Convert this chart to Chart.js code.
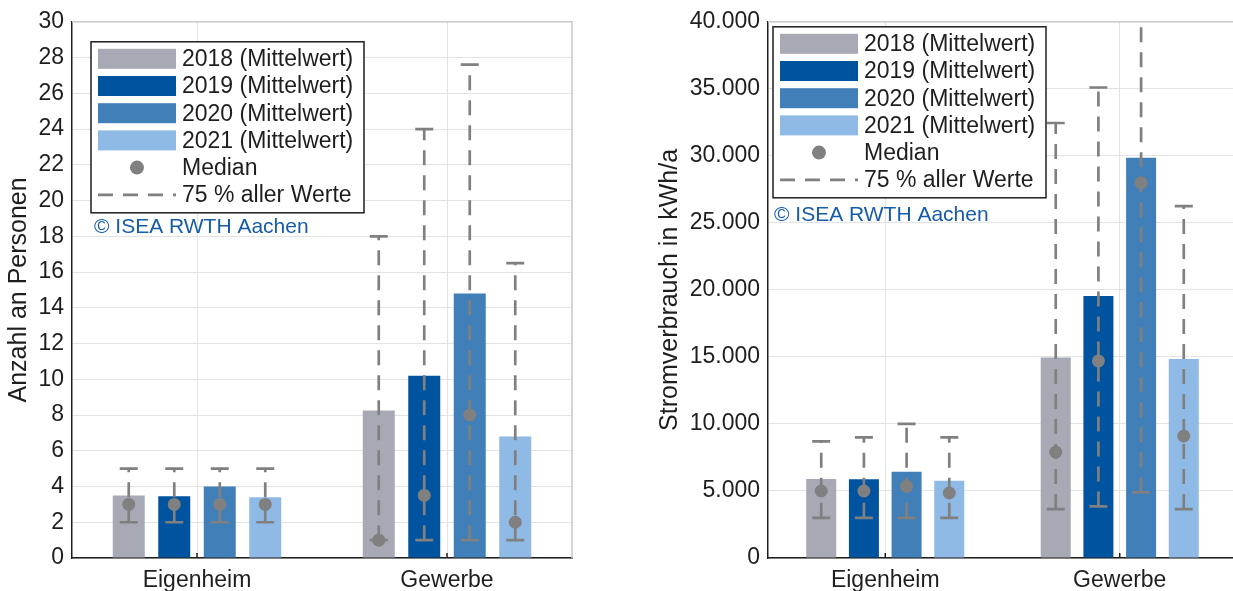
<!DOCTYPE html>
<html lang="de">
<head>
<meta charset="utf-8">
<title>Personen und Stromverbrauch</title>
<script src="https://cdn.jsdelivr.net/npm/chart.js@4.4.1/dist/chart.umd.min.js"></script>
<style>
  html, body { margin: 0; padding: 0; background: #fff; overflow: hidden; }
  body { width: 1233px; height: 591px; position: relative; }
  canvas { position: absolute; top: 0; }
  #chartPersonen { left: 0; }
  #chartStrom { left: 620px; }
</style>
</head>
<body>
<canvas id="chartPersonen" width="620" height="591"></canvas>
<canvas id="chartStrom" width="620" height="591"></canvas>
<script>
// Kategorien und Jahre
let categories = ["Eigenheim", "Gewerbe"];
let seriesNames = ["2018 (Mittelwert)", "2019 (Mittelwert)", "2020 (Mittelwert)", "2021 (Mittelwert)"];
let legendMedian = "Median";
let legendRange = "75 % aller Werte";
let copyrightText = "\u00a9 ISEA RWTH Aachen";

// Anzahl an Personen, je Jahr: [Eigenheim, Gewerbe]
let personenMittelwert = [[3.5, 8.25], [3.45, 10.2], [4.0, 14.8], [3.4, 6.8]];
let personenMedian = [[3, 1], [3, 3.5], [3, 8], [3, 2]];
let personenMin = [[2, 1], [2, 1], [2, 1], [2, 1]];
let personenMax = [[5, 18], [5, 24], [5, 27.6], [5, 16.5]];
let personenTicks = [0, 2, 4, 6, 8, 10, 12, 14, 16, 18, 20, 22, 24, 26, 28, 30];
let personenTickLabels = ["0", "2", "4", "6", "8", "10", "12", "14", "16", "18", "20", "22", "24", "26", "28", "30"];

// Stromverbrauch in kWh/a, je Jahr: [Eigenheim, Gewerbe]
let stromMittelwert = [[5900, 14950], [5870, 19550], [6430, 29850], [5760, 14850]];
let stromMedian = [[5000, 7900], [5000, 14700], [5350, 28000], [4850, 9100]];
let stromMin = [[3000, 3650], [3000, 3850], [3000, 4900], [3000, 3650]];
let stromMax = [[8700, 32450], [9000, 35100], [10000, 41000], [9000, 26250]];
let stromTicks = [0, 5000, 10000, 15000, 20000, 25000, 30000, 35000, 40000];
let stromTickLabels = ["0", "5.000", "10.000", "15.000", "20.000", "25.000", "30.000", "35.000", "40.000"];

let seriesColors = ["#a7a9b4", "#00539e", "#407fb7", "#8ebae5"];
let whiskerColor = "#808080";
let textColor = "#1e1e1e";
let gridColor = "#e3e3e3";
let fontFamily = '"Liberation Sans", Arial, sans-serif';

// Fehlerbalken (75 %) und Median über die Balken zeichnen
const whiskerPlugin = {
  id: "whiskers",
  afterDatasetsDraw(chart) {
    let ctx = chart.ctx;
    let yScale = chart.scales.y;
    let area = chart.chartArea;
    ctx.save();
    ctx.beginPath();
    ctx.rect(area.left, area.top, area.right - area.left, area.bottom - area.top);
    ctx.clip();
    chart.data.datasets.forEach((ds, i) => {
      chart.getDatasetMeta(i).data.forEach((bar, j) => {
        let x = bar.x;
        let yLow = yScale.getPixelForValue(ds.low[j]);
        let yHigh = yScale.getPixelForValue(ds.high[j]);
        let yMed = yScale.getPixelForValue(ds.median[j]);
        ctx.strokeStyle = whiskerColor;
        ctx.lineWidth = 2.7;
        ctx.setLineDash([15, 10]);
        ctx.beginPath();
        ctx.moveTo(x, yLow);
        ctx.lineTo(x, yHigh);
        ctx.stroke();
        ctx.setLineDash([]);
        ctx.beginPath();
        ctx.moveTo(x - 9, yLow);
        ctx.lineTo(x + 9, yLow);
        ctx.moveTo(x - 9, yHigh);
        ctx.lineTo(x + 9, yHigh);
        ctx.stroke();
        ctx.fillStyle = whiskerColor;
        ctx.beginPath();
        ctx.arc(x, yMed, 6.5, 0, Math.PI * 2);
        ctx.fill();
      });
    });
    ctx.restore();
  }
};

// Rahmen, Legende im Plot und Copyright
const boxLegendPlugin = {
  id: "boxLegend",
  afterDraw(chart, args, opts) {
    let ctx = chart.ctx;
    let area = chart.chartArea;
    ctx.save();

    // oberer und rechter Rahmen
    ctx.strokeStyle = "#c8c8c8";
    ctx.lineWidth = 1.5;
    ctx.beginPath();
    ctx.moveTo(area.left, area.top);
    ctx.lineTo(area.right, area.top);
    ctx.lineTo(area.right, area.bottom);
    ctx.stroke();

    // kleine Ticks an der x-Achse
    ctx.strokeStyle = textColor;
    ctx.beginPath();
    categories.forEach((c, j) => {
      let x = chart.scales.x.getPixelForValue(j);
      ctx.moveTo(x, area.bottom);
      ctx.lineTo(x, area.bottom - 5);
    });
    ctx.stroke();

    let x0 = area.left + opts.dx;
    let y0 = area.top + opts.dy;
    let w = 273, h = 171, rowH = 27.2;
    ctx.fillStyle = "#fff";
    ctx.fillRect(x0, y0, w, h);
    ctx.strokeStyle = textColor;
    ctx.lineWidth = 1.5;
    ctx.strokeRect(x0, y0, w, h);

    ctx.font = "23px " + fontFamily;
    ctx.textBaseline = "middle";
    ctx.textAlign = "left";
    let swX = x0 + 7, swW = 78, txtX = x0 + 91;
    chart.data.datasets.forEach((ds, i) => {
      let cy = y0 + 17 + i * rowH;
      ctx.fillStyle = ds.backgroundColor;
      ctx.fillRect(swX, cy - 10, swW, 20);
      ctx.fillStyle = textColor;
      ctx.fillText(ds.label, txtX, cy + 1);
    });
    let cyMed = y0 + 17 + 4 * rowH;
    ctx.fillStyle = whiskerColor;
    ctx.beginPath();
    ctx.arc(swX + swW / 2, cyMed, 7, 0, Math.PI * 2);
    ctx.fill();
    ctx.fillStyle = textColor;
    ctx.fillText(legendMedian, txtX, cyMed + 1);
    let cyRange = y0 + 17 + 5 * rowH;
    ctx.strokeStyle = whiskerColor;
    ctx.lineWidth = 2.7;
    ctx.setLineDash([15, 10]);
    ctx.beginPath();
    ctx.moveTo(swX, cyRange);
    ctx.lineTo(swX + swW, cyRange);
    ctx.stroke();
    ctx.setLineDash([]);
    ctx.fillText(legendRange, txtX, cyRange + 1);

    ctx.font = "21px " + fontFamily;
    ctx.fillStyle = "#175ca6";
    ctx.fillText(copyrightText, area.left + opts.copyDx, y0 + h + opts.copyDy);
    ctx.restore();
  }
};

function makeChart(canvasId, mittel, median, min, max, ticks, tickLabels, yTitle, yMax, setup) {
  let datasets = seriesNames.map((name, i) => ({
    label: name,
    data: mittel[i],
    median: median[i],
    low: min[i],
    high: max[i],
    backgroundColor: seriesColors[i],
    categoryPercentage: 0.728,
    barPercentage: 0.703
  }));

  return new Chart(document.getElementById(canvasId), {
    type: "bar",
    data: { labels: categories, datasets: datasets },
    plugins: [whiskerPlugin, boxLegendPlugin],
    options: {
      responsive: false,
      animation: false,
      events: [],
      layout: { padding: { left: 0, right: setup.padRight, top: 20, bottom: 0 } },
      plugins: {
        legend: { display: false },
        tooltip: { enabled: false },
        boxLegend: setup.legend
      },
      scales: {
        x: {
          grid: { color: gridColor, offset: false, drawTicks: false },
          border: { color: textColor, width: 1.5 },
          ticks: { color: textColor, padding: 9, font: { family: fontFamily, size: 23 } },
          afterFit(scale) { scale.height = 33; }
        },
        y: {
          min: 0,
          max: yMax,
          grid: { color: gridColor, drawTicks: false },
          border: { color: textColor, width: 1.5 },
          ticks: {
            color: textColor,
            padding: 8,
            autoSkip: false,
            font: { family: fontFamily, size: 23 },
            callback: (value) => tickLabels[ticks.indexOf(value)]
          },
          afterBuildTicks(scale) { scale.ticks = ticks.map(v => ({ value: v })); },
          afterFit(scale) { scale.width = setup.yWidth; },
          title: {
            display: true,
            text: yTitle,
            color: textColor,
            font: { family: fontFamily, size: 25 },
            padding: { top: setup.titlePad, bottom: 0 }
          }
        }
      }
    }
  });
}

makeChart("chartPersonen", personenMittelwert, personenMedian, personenMin, personenMax,
  personenTicks, personenTickLabels, "Anzahl an Personen", 30,
  { padRight: 48, yWidth: 72, titlePad: 4, legend: { dx: 19, dy: 20, copyDx: 22, copyDy: 14 } });

makeChart("chartStrom", stromMittelwert, stromMedian, stromMin, stromMax,
  stromTicks, stromTickLabels, "Stromverbrauch in kWh/a", 40000,
  { padRight: 3, yWidth: 148, titlePad: 35, legend: { dx: 5, dy: 5, copyDx: 6, copyDy: 17 } });
</script>
</body>
</html>
